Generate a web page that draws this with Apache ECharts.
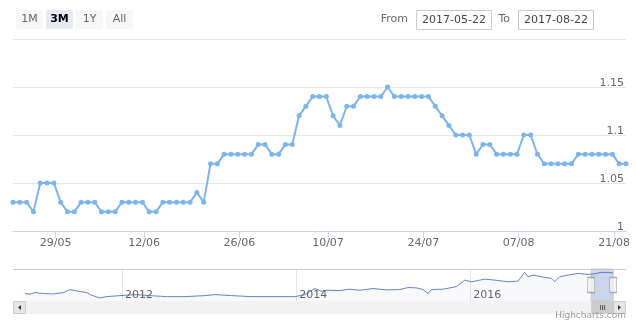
<!DOCTYPE html>
<html>
<head>
<meta charset="utf-8">
<script src="https://cdn.jsdelivr.net/npm/echarts@6/dist/echarts.min.js"></script>
<style>
html, body { margin: 0; padding: 0; background: #fff; }
#chart { width: 636px; height: 321px; }
</style>
</head>
<body>
<div id="chart"></div>
<script>
// main chart: one point per day, 2017-05-22 .. 2017-08-22 (two days have no data)
var firstDay = '2017-05-22';
var lastDay = '2017-08-22';
var missingDays = ['2017-06-05', '2017-07-04'];
var rates = [
  1.03, 1.03, 1.03, 1.02, 1.05, 1.05, 1.05, 1.03, 1.02, 1.02,
  1.03, 1.03, 1.03, 1.02, 1.02, 1.02, 1.03, 1.03, 1.03, 1.03,
  1.02, 1.02, 1.03, 1.03, 1.03, 1.03, 1.03, 1.04, 1.03, 1.07,
  1.07, 1.08, 1.08, 1.08, 1.08, 1.08, 1.09, 1.09, 1.08, 1.08,
  1.09, 1.09, 1.12, 1.13, 1.14, 1.14, 1.14, 1.12, 1.11, 1.13,
  1.13, 1.14, 1.14, 1.14, 1.14, 1.15, 1.14, 1.14, 1.14, 1.14,
  1.14, 1.14, 1.13, 1.12, 1.11, 1.10, 1.10, 1.10, 1.08, 1.09,
  1.09, 1.08, 1.08, 1.08, 1.08, 1.10, 1.10, 1.08, 1.07, 1.07,
  1.07, 1.07, 1.07, 1.08, 1.08, 1.08, 1.08, 1.08, 1.08, 1.07,
  1.07
];
var tickDates = ['2017-05-29', '2017-06-12', '2017-06-26', '2017-07-10', '2017-07-24', '2017-08-07', '2017-08-21'];

// navigator: the whole history, read roughly off the small overview
var navDates = [
  '2010-11-20', '2010-12-11', '2011-01-01', '2011-02-05', '2011-03-19', '2011-04-30', '2011-05-28',
  '2011-06-25', '2011-08-06', '2011-08-27', '2011-09-30', '2011-10-29', '2011-12-23', '2012-03-02',
  '2012-04-27', '2012-07-06', '2012-09-21', '2012-12-14', '2013-01-25', '2013-04-05', '2013-06-28',
  '2013-09-19', '2013-12-26', '2014-02-06', '2014-03-20', '2014-04-17', '2014-05-08', '2014-07-03',
  '2014-08-14', '2014-09-25', '2014-11-19', '2015-01-15', '2015-03-11', '2015-04-15', '2015-05-20',
  '2015-06-17', '2015-07-08', '2015-07-22', '2015-09-09', '2015-11-04', '2015-12-09', '2016-01-06',
  '2016-02-10', '2016-03-02', '2016-04-13', '2016-06-07', '2016-07-19', '2016-08-16', '2016-08-30',
  '2016-09-20', '2016-10-25', '2016-12-06', '2016-12-20', '2017-01-10', '2017-02-14', '2017-03-28',
  '2017-05-09', '2017-06-06', '2017-07-04', '2017-08-01', '2017-08-22'
];
var navRates = [
  0.52, 0.50, 0.55, 0.52, 0.51, 0.55, 0.64,
  0.60, 0.55, 0.47, 0.39, 0.43, 0.46, 0.49,
  0.46, 0.43, 0.43, 0.46, 0.49, 0.46, 0.43,
  0.43, 0.43, 0.49, 0.67, 0.59, 0.62, 0.61,
  0.65, 0.62, 0.67, 0.63, 0.64, 0.70, 0.69,
  0.64, 0.52, 0.64, 0.65, 0.73, 0.92, 0.87,
  0.92, 0.95, 0.92, 0.87, 0.89, 1.15, 1.02,
  1.07, 1.02, 0.97, 0.87, 1.02, 1.07, 1.12,
  1.09, 1.11, 1.15, 1.15, 1.13
];
var navYears = ['2012-01-01', '2014-01-01', '2016-01-01'];

var rangeButtons = ['1M', '3M', '1Y', 'All'];
var selectedButton = 1;

// build the day list
var dates = [];
for (var t = Date.parse(firstDay); t <= Date.parse(lastDay); t += 864e5) {
  var s = new Date(t).toISOString().slice(0, 10);
  if (missingDays.indexOf(s) < 0) dates.push(s);
}

// ordinal axis: ticks at midnight fall between the points (points carry a late-day timestamp)
var pointOffset = 18 * 3600e3;
function ordinalPos(day) {
  var t = Date.parse(day);
  for (var i = 0; i < dates.length - 1; i++) {
    var a = Date.parse(dates[i]) + pointOffset;
    var b = Date.parse(dates[i + 1]) + pointOffset;
    if (t >= a && t < b) return i + (t - a) / (b - a);
  }
  return dates.length - 1;
}
var tickPos = tickDates.map(ordinalPos);
function tickLabel(v) {
  var best = 0;
  for (var k = 1; k < tickPos.length; k++) {
    if (Math.abs(tickPos[k] - v) < Math.abs(tickPos[best] - v)) best = k;
  }
  var d = tickDates[best];
  return d.slice(8, 10) + '/' + d.slice(5, 7);
}
var yearTicks = navYears.map(function (d) { return Date.parse(d); });

var font = 'DejaVu Sans, sans-serif';
var navMin = 0.3, navMax = 1.25;

var chart = echarts.init(document.getElementById('chart'));
chart.setOption({
  animation: false,
  grid: [
    { left: 13, right: 10, top: 39, height: 192 },
    { left: 13, right: 10, top: 269, height: 32 }
  ],
  xAxis: [
    {
      type: 'value', gridIndex: 0, min: 0, max: dates.length - 1,
      axisLine: { show: true, lineStyle: { color: '#ccd6eb' } },
      axisTick: { show: true, customValues: tickPos, length: 7, lineStyle: { color: '#ccd6eb' } },
      axisLabel: { customValues: tickPos, formatter: tickLabel, color: '#666', fontSize: 11, fontFamily: font, margin: 7 },
      splitLine: { show: false }
    },
    {
      type: 'value', gridIndex: 1,
      min: Date.parse('2010-10-01'), max: Date.parse('2017-10-15'),
      axisLine: { show: false },
      axisTick: { show: false, customValues: yearTicks },
      axisLabel: {
        customValues: yearTicks, inside: true, margin: 0, align: 'left', padding: [0, 0, 0, 3],
        formatter: function (v) { return String(new Date(v).getUTCFullYear()); },
        color: '#666', fontSize: 11, fontFamily: font
      },
      splitLine: { show: true, lineStyle: { color: '#e6e6e6' } }
    }
  ],
  yAxis: [
    {
      type: 'value', gridIndex: 0, position: 'right', min: 1, max: 1.2, interval: 0.05,
      axisLine: { show: false }, axisTick: { show: false },
      axisLabel: { inside: true, showMaxLabel: false, margin: 2, verticalAlign: 'bottom', lineHeight: 8, color: '#666', fontSize: 11, fontFamily: font },
      splitLine: { lineStyle: { color: '#e6e6e6' } }
    },
    { type: 'value', gridIndex: 1, min: navMin, max: navMax, show: false }
  ],
  series: [
    {
      type: 'line', xAxisIndex: 0, yAxisIndex: 0,
      data: rates.map(function (v, i) { return [i, v]; }),
      symbol: 'circle', symbolSize: 5, showSymbol: true, showAllSymbol: true,
      itemStyle: { color: '#7cb5ec' },
      lineStyle: { color: '#7cb5ec', width: 2 }
    },
    {
      type: 'line', xAxisIndex: 1, yAxisIndex: 1,
      data: navDates.map(function (d, i) { return [Date.parse(d), navRates[i]]; }),
      symbol: 'none',
      lineStyle: { color: '#335cad', width: 1, opacity: 0.75 },
      areaStyle: { color: 'rgba(51,92,173,0.05)', origin: 'start' },
      markArea: {
        silent: true,
        itemStyle: { color: 'rgba(102,133,194,0.3)', borderColor: '#cccccc', borderWidth: 1 },
        data: [[{ xAxis: Date.parse(firstDay) }, { xAxis: Date.parse(lastDay) }]]
      }
    },
    {
      type: 'scatter', xAxisIndex: 1, yAxisIndex: 1, z: 5, silent: true,
      data: [[Date.parse(firstDay), (navMin + navMax) / 2], [Date.parse(lastDay), (navMin + navMax) / 2]],
      symbol: 'rect', symbolSize: [7, 15],
      itemStyle: { color: '#f2f2f2', borderColor: '#999999', borderWidth: 1 }
    }
  ]
});

// range selector, inputs, scrollbar, credits
var x0 = chart.convertToPixel({ xAxisIndex: 1 }, Date.parse(firstDay));
var x1 = chart.convertToPixel({ xAxisIndex: 1 }, Date.parse(lastDay));
var g = [];
rangeButtons.forEach(function (b, i) {
  var sel = i === selectedButton;
  g.push({ type: 'rect', shape: { x: 16 + i * 30, y: 10, width: 27, height: 19, r: 2 }, style: { fill: sel ? '#e6ebf5' : '#f7f7f7' } });
  g.push({ type: 'text', x: 29.5 + i * 30, y: 19.5, style: { text: b, fill: sel ? '#000' : '#666', font: (sel ? 'bold ' : '') + '11px ' + font, align: 'center', verticalAlign: 'middle' } });
});
g.push({ type: 'text', x: 408, y: 19.5, style: { text: 'From', fill: '#666', font: '11px ' + font, align: 'right', verticalAlign: 'middle' } });
g.push({ type: 'rect', shape: { x: 416.5, y: 10.5, width: 75, height: 19 }, style: { fill: '#fff', stroke: '#cccccc', lineWidth: 1 } });
g.push({ type: 'text', x: 454, y: 20, style: { text: dates[0], fill: '#444', font: '11px ' + font, align: 'center', verticalAlign: 'middle' } });
g.push({ type: 'text', x: 510, y: 19.5, style: { text: 'To', fill: '#666', font: '11px ' + font, align: 'right', verticalAlign: 'middle' } });
g.push({ type: 'rect', shape: { x: 518.5, y: 10.5, width: 75, height: 19 }, style: { fill: '#fff', stroke: '#cccccc', lineWidth: 1 } });
g.push({ type: 'text', x: 556, y: 20, style: { text: dates[dates.length - 1], fill: '#444', font: '11px ' + font, align: 'center', verticalAlign: 'middle' } });
// navigator top outline
g.push({ type: 'line', shape: { x1: 13, y1: 269.5, x2: 626, y2: 269.5 }, style: { stroke: '#cccccc', lineWidth: 1 } });
// scrollbar
g.push({ type: 'rect', shape: { x: 13, y: 301, width: 613, height: 13 }, style: { fill: '#f2f2f2' } });
g.push({ type: 'rect', shape: { x: x0, y: 301, width: x1 - x0, height: 13 }, style: { fill: '#cccccc' } });
var mid = (x0 + x1) / 2;
[-2, 0, 2].forEach(function (d) {
  g.push({ type: 'line', shape: { x1: mid + d + 0.5, y1: 305, x2: mid + d + 0.5, y2: 310 }, style: { stroke: '#555', lineWidth: 1 } });
});
g.push({ type: 'rect', shape: { x: 13.5, y: 301.5, width: 12, height: 12 }, style: { fill: '#e6e6e6', stroke: '#cccccc', lineWidth: 1 } });
g.push({ type: 'polygon', shape: { points: [[18, 307.5], [21, 305], [21, 310]] }, style: { fill: '#333' } });
g.push({ type: 'rect', shape: { x: 613.5, y: 301.5, width: 12, height: 12 }, style: { fill: '#e6e6e6', stroke: '#cccccc', lineWidth: 1 } });
g.push({ type: 'polygon', shape: { points: [[621, 307.5], [618, 305], [618, 310]] }, style: { fill: '#333' } });
g.push({ type: 'text', x: 626, y: 316, style: { text: 'Highcharts.com', fill: '#999', font: '9px ' + font, align: 'right', verticalAlign: 'middle' } });
chart.setOption({ graphic: g });
</script>
</body>
</html>
